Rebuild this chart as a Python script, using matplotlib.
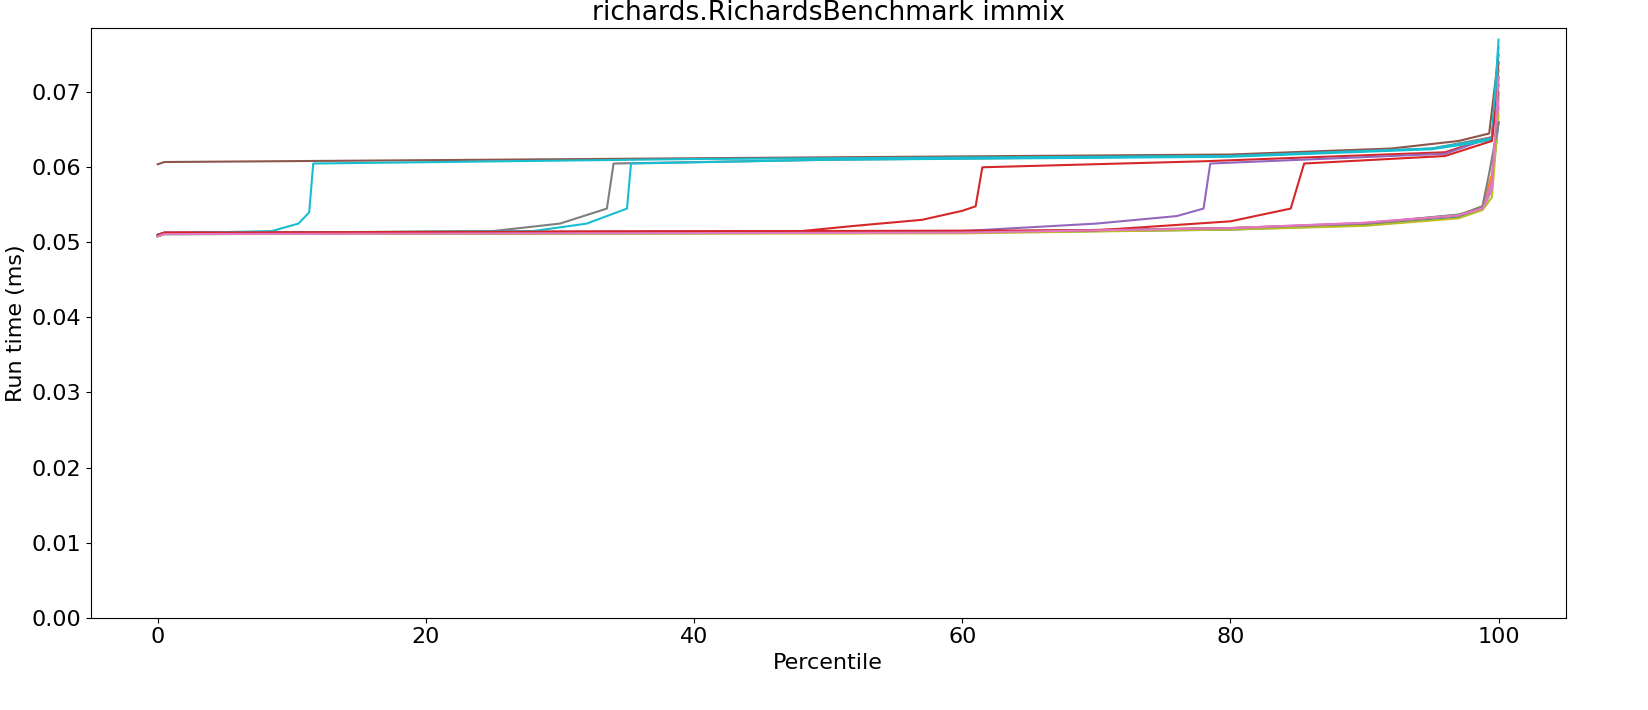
import numpy as np
import matplotlib.pyplot as plt

# key points (percentile, run time ms), one list per run
runs = [
    ("C0", [0, 0.5, 60, 80, 90, 97, 98.8, 99.5, 100], [0.0508, 0.0511, 0.0513, 0.0517, 0.0523, 0.0533, 0.0545, 0.058, 0.066]),
    ("C1", [0, 0.5, 60, 80, 90, 97, 98.8, 99.5, 100], [0.0509, 0.0512, 0.0514, 0.0519, 0.0525, 0.0536, 0.0548, 0.059, 0.068]),
    ("C2", [0, 0.5, 60, 80, 90, 97, 98.8, 99.5, 100], [0.0508, 0.0511, 0.0513, 0.0518, 0.0525, 0.0537, 0.0545, 0.057, 0.070]),
    ("C3", [0, 0.5, 48, 52, 57, 60, 61, 61.5, 78, 96, 99.5, 100], [0.0510, 0.0513, 0.0515, 0.0522, 0.0530, 0.0542, 0.0548, 0.0600, 0.0608, 0.0620, 0.0640, 0.074]),
    ("C4", [0, 0.5, 60, 70, 76, 78, 78.5, 96, 99.5, 100], [0.0510, 0.0513, 0.0515, 0.0525, 0.0535, 0.0545, 0.0605, 0.0618, 0.0640, 0.072]),
    ("C5", [0, 0.5, 40, 80, 92, 97, 99.3, 100], [0.0604, 0.0607, 0.0612, 0.0617, 0.0625, 0.0635, 0.0645, 0.075]),
    ("C6", [0, 0.5, 60, 80, 90, 97, 98.8, 99.5, 100], [0.0509, 0.0512, 0.0514, 0.0519, 0.0526, 0.0536, 0.0547, 0.058, 0.069]),
    ("C7", [0, 0.5, 25, 30, 33.5, 34, 50, 80, 95, 99.5, 100], [0.0509, 0.0512, 0.0515, 0.0525, 0.0545, 0.0605, 0.0610, 0.0615, 0.0625, 0.0640, 0.073]),
    ("C8", [0, 0.5, 60, 80, 90, 97, 98.8, 99.5, 100], [0.0508, 0.0511, 0.0512, 0.0517, 0.0522, 0.0532, 0.0543, 0.056, 0.067]),
    ("C9", [0, 0.5, 8.5, 10.5, 11.3, 11.6, 40, 80, 95, 99.5, 100], [0.0510, 0.0512, 0.0515, 0.0525, 0.0540, 0.0605, 0.0611, 0.0615, 0.0625, 0.0638, 0.077]),
    ("C7", [0, 0.5, 60, 80, 90, 97, 98.8, 99.3, 100], [0.0509, 0.0512, 0.0514, 0.0519, 0.0525, 0.0536, 0.0548, 0.0592, 0.066]),
    ("C9", [0, 0.5, 28, 32, 35, 35.3, 50, 80, 95, 99.5, 100], [0.0510, 0.0512, 0.0515, 0.0525, 0.0545, 0.0605, 0.0610, 0.0614, 0.0624, 0.0636, 0.076]),
    ("C3", [0, 0.5, 70, 80, 84.5, 85, 85.5, 96, 99.5, 100], [0.0510, 0.0513, 0.0516, 0.0528, 0.0545, 0.0575, 0.0605, 0.0615, 0.0635, 0.071]),
    ("C6", [0, 0.5, 60, 80, 90, 97, 98.8, 99.5, 100], [0.0508, 0.0511, 0.0513, 0.0519, 0.0526, 0.0536, 0.0545, 0.057, 0.072]),
]

plt.rcParams['font.size'] = 16
fig, ax = plt.subplots(figsize=(16.48, 7.10), dpi=100)
for color, xs, ys in runs:
    ax.plot(xs, ys, color=color, linewidth=1.5)

ax.set_title("richards.RichardsBenchmark immix")
ax.set_xlabel("Percentile")
ax.set_ylabel("Run time (ms)")
ax.set_ylim(0, 0.0785)
ax.set_xlim(-5, 105)
plt.subplots_adjust(left=0.055, right=0.95, top=0.96, bottom=0.13)
plt.savefig("out.png")
